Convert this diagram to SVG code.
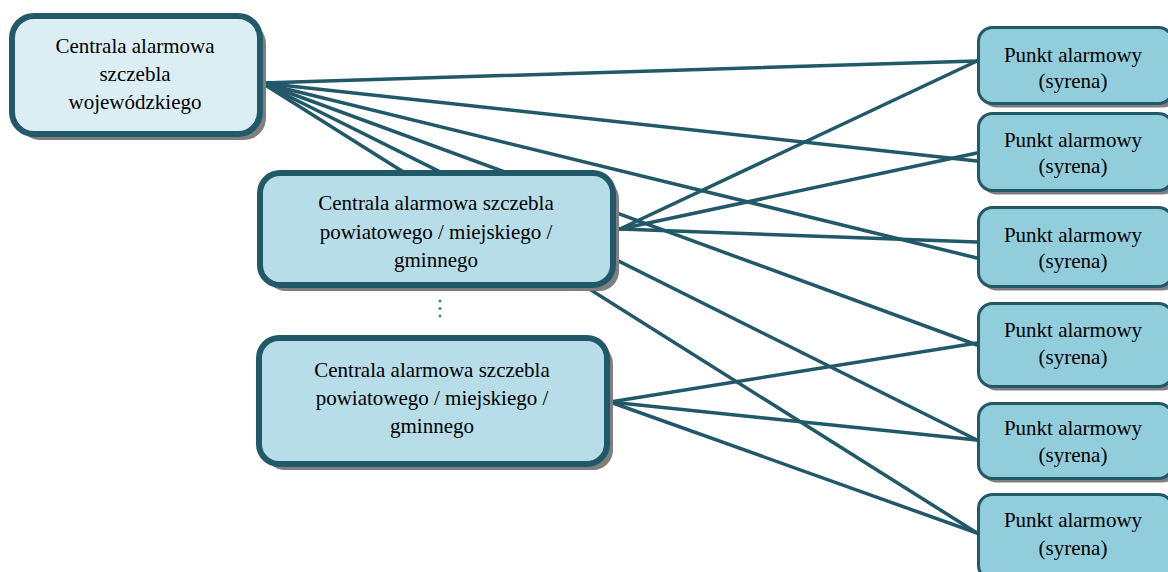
<svg xmlns="http://www.w3.org/2000/svg" width="1168" height="572" viewBox="0 0 1168 572">
<style>
text{font-family:"Liberation Serif","Times New Roman",serif;font-size:21px;fill:#000;text-anchor:middle}
.big{stroke:#215968;stroke-width:6}
.sm{stroke:#215968;stroke-width:3}
.sh{fill:#7f7f7f}
.ln{stroke:#215968;stroke-width:3.5;fill:none;stroke-linecap:round}
</style>
<rect x="0" y="0" width="1168" height="572" fill="#ffffff"/>
<g id="connectors">
<line class="ln" x1="262" y1="83" x2="977" y2="61"/>
<line class="ln" x1="262" y1="83" x2="977" y2="161"/>
<line class="ln" x1="262" y1="83" x2="977" y2="258"/>
<line class="ln" x1="262" y1="83" x2="977" y2="345"/>
<line class="ln" x1="262" y1="83" x2="977" y2="440"/>
<line class="ln" x1="262" y1="83" x2="977" y2="533"/>
<line class="ln" x1="620" y1="229" x2="977" y2="61"/>
<line class="ln" x1="620" y1="229" x2="977" y2="153"/>
<line class="ln" x1="620" y1="229" x2="977" y2="242"/>
<line class="ln" x1="610" y1="402" x2="977" y2="343"/>
<line class="ln" x1="610" y1="402" x2="977" y2="440"/>
<line class="ln" x1="610" y1="402" x2="977" y2="533"/>
</g>
<g id="wojewodzka">
<rect class="sh" x="18" y="22" width="248" height="118" rx="22"/>
<rect class="big" x="12" y="16" width="248" height="118" rx="22" fill="#dbeef4"/>
<text x="135" y="53">Centrala alarmowa</text>
<text x="135" y="81">szczebla</text>
<text x="135" y="109">wojewódzkiego</text>
</g>
<g id="powiatowa1">
<rect class="sh" x="266" y="179" width="353" height="112" rx="20"/>
<rect class="big" x="260" y="173" width="353" height="112" rx="20" fill="#b7dde8"/>
<text x="436" y="210">Centrala alarmowa szczebla</text>
<text x="436" y="239">powiatowego / miejskiego /</text>
<text x="436" y="267">gminnego</text>
</g>
<g id="ellipsis" fill="#31849b">
<circle cx="440" cy="301" r="1.5"/>
<circle cx="440" cy="308.5" r="1.5"/>
<circle cx="440" cy="316" r="1.5"/>
</g>
<g id="powiatowa2">
<rect class="sh" x="265" y="344" width="348" height="126" rx="20"/>
<rect class="big" x="259" y="338" width="348" height="126" rx="20" fill="#b7dde8"/>
<text x="432" y="377">Centrala alarmowa szczebla</text>
<text x="432" y="405">powiatowego / miejskiego /</text>
<text x="432" y="433">gminnego</text>
</g>
<g id="punkt1">
<rect class="sh" x="982.5" y="31.5" width="194" height="76" rx="14"/>
<rect class="sm" x="978.5" y="27.5" width="194" height="76" rx="14" fill="#92cddc"/>
<text x="1073" y="62">Punkt alarmowy</text>
<text x="1073" y="88">(syrena)</text>
</g>
<g id="punkt2">
<rect class="sh" x="982.5" y="117.5" width="194" height="77" rx="14"/>
<rect class="sm" x="978.5" y="113.5" width="194" height="77" rx="14" fill="#92cddc"/>
<text x="1073" y="147">Punkt alarmowy</text>
<text x="1073" y="173">(syrena)</text>
</g>
<g id="punkt3">
<rect class="sh" x="982.5" y="211.5" width="194" height="79" rx="14"/>
<rect class="sm" x="978.5" y="207.5" width="194" height="79" rx="14" fill="#92cddc"/>
<text x="1073" y="242">Punkt alarmowy</text>
<text x="1073" y="268">(syrena)</text>
</g>
<g id="punkt4">
<rect class="sh" x="982.5" y="307.5" width="194" height="83" rx="14"/>
<rect class="sm" x="978.5" y="303.5" width="194" height="83" rx="14" fill="#92cddc"/>
<text x="1073" y="337">Punkt alarmowy</text>
<text x="1073" y="364">(syrena)</text>
</g>
<g id="punkt5">
<rect class="sh" x="982.5" y="407.5" width="194" height="75" rx="14"/>
<rect class="sm" x="978.5" y="403.5" width="194" height="75" rx="14" fill="#92cddc"/>
<text x="1073" y="435">Punkt alarmowy</text>
<text x="1073" y="462">(syrena)</text>
</g>
<g id="punkt6">
<rect class="sh" x="982.5" y="498.5" width="194" height="85" rx="14"/>
<rect class="sm" x="978.5" y="494.5" width="194" height="85" rx="14" fill="#92cddc"/>
<text x="1073" y="527">Punkt alarmowy</text>
<text x="1073" y="555">(syrena)</text>
</g>
</svg>
